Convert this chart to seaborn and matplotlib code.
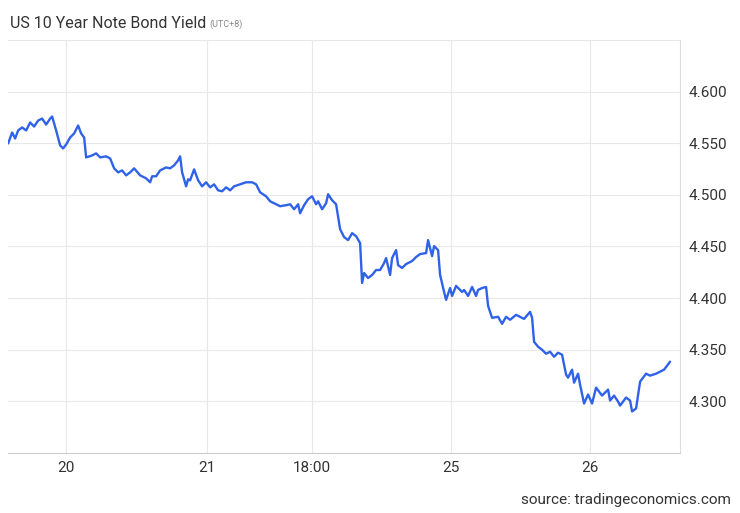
import matplotlib
matplotlib.use("Agg")
import matplotlib.pyplot as plt
import seaborn as sns
import pandas as pd

t = [8,12,15,18,22,26,30,34,38,42,46,50,52,56,60,63,66,70,74,78,81,84,86,92,96,100,106,110,114,118,122,126,130,134,140,146,150,152,156,160,166,170,174,178,180,182,186,188,190,194,198,202,206,210,214,218,222,226,230,234,240,246,252,256,260,266,270,274,280,286,290,294,298,300,304,308,312,316,318,322,326,328,332,336,340,344,348,352,356,360,362,364,368,372,376,380,384,386,390,392,396,398,402,406,412,416,420,426,428,432,434,438,440,444,446,450,452,456,462,464,468,472,476,478,482,486,488,492,498,502,506,510,516,520,524,530,532,534,538,542,546,550,554,558,562,566,568,572,574,578,580,584,588,592,596,602,608,610,614,618,620,626,630,632,636,640,646,650,656,664,670]
py = [143,132,138,130,127,130,122,126,120,118,124,118,116,130,145,148,144,137,133,125,133,137,157,155,153,157,156,158,168,172,170,175,172,168,175,178,182,176,176,170,167,168,165,160,156,172,186,179,180,169,180,186,182,187,184,190,191,187,190,186,184,182,182,184,192,196,201,203,206,205,204,209,204,213,205,199,196,204,201,209,203,194,200,204,229,237,240,233,236,243,283,273,278,275,270,270,263,258,275,258,250,265,268,264,261,257,254,253,240,256,246,250,275,292,300,288,296,286,292,290,296,287,296,290,288,287,306,318,317,324,317,320,315,317,319,312,318,342,347,350,354,352,357,353,355,375,378,370,383,374,385,404,395,404,388,396,390,401,396,402,406,398,401,412,409,382,374,376,374,370,362]
yields = [round(4.600 - (p - 91) * 0.05 / 51.8, 4) for p in py]
tick_pos = [66, 207, 312, 451, 590]
tick_labels = ["20", "21", "18:00", "25", "26"]
y_ticks = [4.30, 4.35, 4.40, 4.45, 4.50, 4.55, 4.60]

df = pd.DataFrame({"t": t, "yield": yields})
sns.set_style("white")
plt.rcParams["font.family"] = ["Roboto", "DejaVu Sans"]
fig = plt.figure(figsize=(7.4, 5.13), dpi=100)
ax = fig.add_axes([0.011, 0.117, 0.908, 0.805])
sns.lineplot(data=df, x="t", y="yield", ax=ax, color="#2f62e8", linewidth=1.7)
ax.set_xlim(8, 680)
ax.set_ylim(4.25, 4.65)
ax.set_xticks(tick_pos)
ax.set_xticklabels(tick_labels, fontsize=11, color="#333333")
ax.set_yticks(y_ticks + [4.65])
ax.set_yticklabels([f"{v:.3f}" for v in y_ticks] + [""], fontsize=11, color="#333333")
ax.yaxis.tick_right()
ax.tick_params(axis="both", length=0, pad=6)
ax.grid(True, color="#e8e8e8", linewidth=0.8)
for s in ["top", "left"]:
    ax.spines[s].set_visible(False)
ax.spines["right"].set_color("#dddddd")
ax.spines["bottom"].set_color("#cccccc")
ax.set_xlabel("")
ax.set_ylabel("")
title = fig.text(0.014, 0.955, "US 10 Year Note Bond Yield", fontsize=11.5, color="#333333", va="center")
fig.canvas.draw()
bb = title.get_window_extent()
fig.text((bb.x1 + 3) / fig.bbox.width, 0.953, "(UTC+8)", fontsize=6.5, color="#888888", va="center")
fig.text(0.987, 0.025, "source: tradingeconomics.com", fontsize=11, color="#333333", ha="right", va="center")
fig.savefig("out.png", dpi=100)
